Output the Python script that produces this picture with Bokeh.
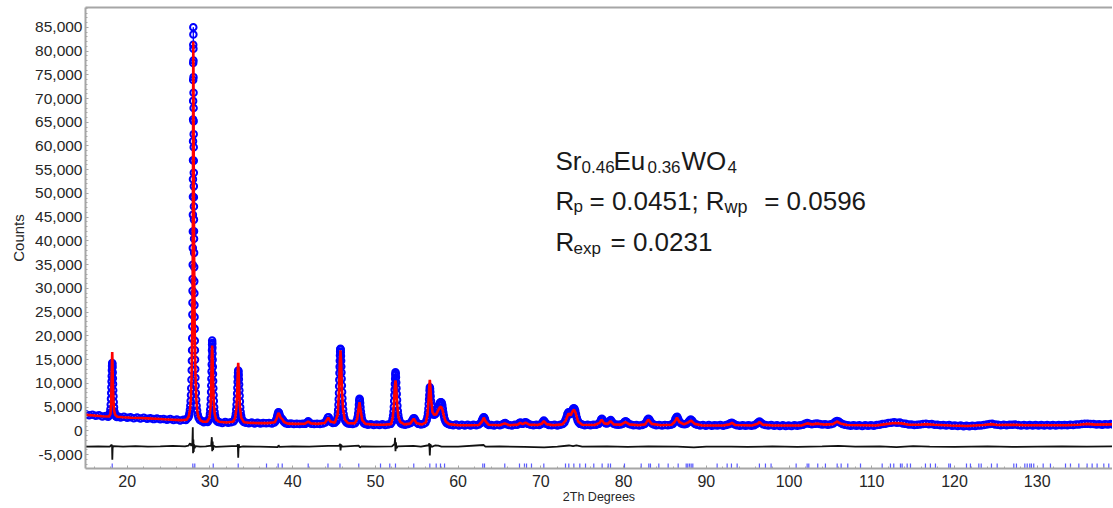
from bokeh.plotting import figure
from bokeh.models import Range1d, LinearAxis, SingleIntervalTicker, FixedTicker, NumeralTickFormatter, Label
from bokeh.embed import file_html
from bokeh.resources import INLINE

# ---------------- data ----------------
# observed pattern, (2theta, counts) by region
obs_15_19 = [
    (15.0, 3500), (15.4, 3300), (15.8, 3400), (16.2, 3200), (16.6, 3300), (17.0, 3050), (17.4, 3150), (17.7, 3000),
    (17.85, 3300), (17.92, 3800), (17.97, 4600), (18.01, 5600), (18.04, 6800), (18.07, 8000), (18.09, 9200),
    (18.11, 10400), (18.13, 11600), (18.15, 12800), (18.17, 13700), (18.19, 14300), (18.21, 14100), (18.23, 13400),
    (18.25, 12300), (18.27, 11100), (18.29, 9900), (18.31, 8600), (18.34, 7300), (18.37, 6100), (18.41, 5000),
    (18.46, 4100), (18.53, 3500), (18.62, 3100), (18.75, 2950), (18.9, 3050),
]
obs_19_27 = [
    (19.2, 2850), (19.6, 3000), (20.0, 2800), (20.4, 2900), (20.8, 2700), (21.2, 2850), (21.6, 2650), (22.0, 2800),
    (22.4, 2600), (22.8, 2700), (23.2, 2500), (23.6, 2650), (24.0, 2450), (24.4, 2550), (24.8, 2350), (25.2, 2500),
    (25.6, 2300), (26.0, 2400), (26.4, 2200), (26.8, 2350), (27.1, 2300), (27.35, 2800),
]
obs_27_30 = [
    (27.45, 3100), (27.52, 3700), (27.58, 4400), (27.63, 5300), (27.67, 6300), (27.71, 7600), (27.74, 9000),
    (27.77, 10800), (27.8, 12800), (27.82, 14800), (27.84, 17000), (27.86, 19500), (27.87, 22000), (27.88, 24500),
    (27.89, 27000), (27.9, 29500), (27.91, 32000), (27.92, 35000), (27.93, 38500), (27.935, 42000), (27.94, 45500),
    (27.945, 49300), (27.95, 53000), (27.955, 57000), (27.96, 61000), (27.965, 65600), (27.97, 69500),
    (27.975, 73900), (27.98, 77500), (27.985, 81300), (27.99, 85000), (28.0, 83450), (28.005, 80500),
    (28.01, 78000), (28.015, 74500), (28.02, 71200), (28.025, 68000), (28.03, 65200), (28.035, 62500),
    (28.04, 59750), (28.045, 56900), (28.05, 54350), (28.055, 51500), (28.06, 49200), (28.065, 47250),
    (28.07, 44500), (28.075, 42060), (28.08, 40460), (28.09, 37500), (28.1, 34500), (28.11, 31500),
    (28.12, 29000), (28.13, 26500), (28.14, 24000), (28.155, 21500), (28.17, 19000), (28.185, 17000),
    (28.2, 15000), (28.22, 13000), (28.24, 11200), (28.27, 9500), (28.3, 8000), (28.34, 6600), (28.39, 5300),
    (28.45, 4300), (28.53, 3400), (28.63, 2800), (28.78, 2300), (29.0, 2100), (29.25, 1850), (29.5, 2050),
    (29.72, 1900),
]
obs_30_34 = [
    (29.88, 2300), (29.95, 2900), (30.0, 3600), (30.04, 4500), (30.08, 5600), (30.11, 6800), (30.14, 8200),
    (30.16, 9600), (30.18, 11000), (30.2, 12500), (30.22, 14000), (30.235, 15500), (30.25, 17000), (30.26, 18200),
    (30.27, 19050), (30.285, 18500), (30.3, 17500), (30.315, 16300), (30.33, 15000), (30.35, 13500), (30.37, 12000),
    (30.39, 10500), (30.41, 9000), (30.44, 7600), (30.47, 6300), (30.51, 5000), (30.56, 4000), (30.62, 3200),
    (30.7, 2600), (30.8, 2200), (30.95, 1950),
    (31.15, 1850), (31.5, 1700), (31.85, 1900), (32.2, 1750), (32.55, 1850), (32.85, 2000),
    (33.0, 2400), (33.07, 2900), (33.13, 3600), (33.18, 4500), (33.22, 5500), (33.26, 6700), (33.29, 7900),
    (33.32, 9100), (33.35, 10300), (33.37, 11400), (33.4, 12300), (33.42, 12750), (33.45, 12500), (33.48, 11800),
    (33.5, 10900), (33.53, 9800), (33.56, 8600), (33.59, 7400), (33.62, 6200), (33.66, 5000), (33.71, 4000),
    (33.77, 3200), (33.85, 2600), (33.95, 2200), (34.1, 1900),
]
obs_34_47 = [
    (34.35, 1750), (34.7, 1650), (35.05, 1800), (35.4, 1600), (35.75, 1750), (36.1, 1600), (36.45, 1700),
    (36.8, 1650), (37.15, 1700), (37.5, 1600), (37.8, 1800),
    (37.95, 2100), (38.05, 2600), (38.13, 3100), (38.2, 3600), (38.27, 3950), (38.33, 3900), (38.4, 3500),
    (38.47, 3100), (38.55, 2800), (38.65, 2650), (38.75, 2450), (38.85, 2200), (38.97, 1900), (39.15, 1650),
    (39.45, 1500), (39.8, 1600), (40.15, 1450), (40.5, 1550), (40.85, 1450), (41.2, 1550), (41.5, 1500),
    (41.72, 1750), (41.88, 2050), (42.02, 1800), (42.25, 1550), (42.6, 1450), (42.95, 1550), (43.3, 1450),
    (43.65, 1600), (43.95, 1800), (44.12, 2300), (44.25, 2850), (44.35, 2900), (44.47, 2400), (44.62, 1950),
    (44.85, 1700), (45.1, 1750), (45.3, 2100),
    (45.4, 2700), (45.46, 3500), (45.5, 4400), (45.54, 5500), (45.57, 6700), (45.6, 8000), (45.62, 9400),
    (45.64, 10800), (45.66, 12200), (45.68, 13500), (45.7, 14800), (45.72, 15900), (45.74, 16700), (45.76, 17200),
    (45.78, 17300), (45.8, 17100), (45.82, 16600), (45.84, 15800), (45.86, 14800), (45.88, 13600), (45.9, 12300),
    (45.92, 11000), (45.95, 9600), (45.98, 8200), (46.01, 6900), (46.05, 5700), (46.1, 4600), (46.16, 3600),
    (46.24, 2800), (46.35, 2200), (46.5, 1800), (46.7, 1600),
]
obs_47_59 = [
    (46.95, 1550), (47.25, 1450), (47.55, 1650), (47.75, 2200),
    (47.85, 2900), (47.92, 3700), (47.97, 4600), (48.01, 5500), (48.05, 6300), (48.08, 6770), (48.12, 6500),
    (48.16, 5900), (48.2, 5000), (48.25, 4100), (48.31, 3300), (48.38, 2600), (48.48, 2000), (48.62, 1650),
    (48.8, 1450),
    (49.1, 1300), (49.45, 1400), (49.8, 1250), (50.15, 1350), (50.5, 1250), (50.85, 1400), (51.2, 1250),
    (51.55, 1350), (51.85, 1500),
    (52.0, 1900), (52.08, 2500), (52.14, 3200), (52.19, 4100), (52.23, 5100), (52.27, 6300), (52.3, 7500),
    (52.33, 8700), (52.36, 9900), (52.39, 11000), (52.41, 11800), (52.43, 12380), (52.46, 12100), (52.49, 11300),
    (52.52, 10200), (52.55, 9000), (52.58, 7800), (52.62, 6500), (52.66, 5300), (52.71, 4200), (52.77, 3300),
    (52.85, 2600), (52.95, 2000), (53.1, 1600), (53.3, 1400),
    (53.6, 1300), (53.95, 1450), (54.25, 1700), (54.45, 2200), (54.58, 2650), (54.7, 2700), (54.82, 2300),
    (54.97, 1800), (55.2, 1500), (55.5, 1350), (55.8, 1450), (56.05, 1750), (56.2, 2300),
    (56.3, 3000), (56.36, 3800), (56.41, 4700), (56.45, 5700), (56.49, 6700), (56.52, 7600), (56.55, 8500),
    (56.58, 9230), (56.61, 8900), (56.64, 8200), (56.68, 7300), (56.72, 6300), (56.77, 5300), (56.83, 4400),
    (56.9, 3800), (57.0, 3500), (57.12, 3400), (57.25, 3600), (57.38, 3900), (57.5, 4400), (57.6, 5000),
    (57.7, 5500), (57.8, 5900), (57.88, 6050), (57.95, 6070), (58.02, 5900), (58.09, 5400), (58.15, 4700),
    (58.21, 3900), (58.28, 3200), (58.36, 2600), (58.46, 2100), (58.6, 1700), (58.8, 1450),
]
obs_59_89 = [
    (59.05, 1300), (59.4, 1200), (59.75, 1350), (60.1, 1150), (60.45, 1300), (60.8, 1150), (61.15, 1300),
    (61.5, 1150), (61.85, 1300), (62.2, 1200), (62.5, 1350),
    (62.75, 1700), (62.88, 2200), (62.98, 2650), (63.08, 2900), (63.16, 2850), (63.25, 2450), (63.36, 1900),
    (63.5, 1500), (63.7, 1250),
    (64.0, 1250), (64.35, 1150), (64.7, 1300), (65.05, 1200), (65.35, 1350), (65.55, 1600), (65.7, 1700),
    (65.88, 1400), (66.15, 1250), (66.5, 1150), (66.85, 1300), (67.15, 1300), (67.4, 1700), (67.55, 1800),
    (67.75, 1500), (67.95, 1650), (68.1, 1850), (68.25, 1800), (68.45, 1500), (68.75, 1300), (69.1, 1200),
    (69.45, 1300), (69.8, 1250), (70.05, 1450), (70.22, 1900), (70.36, 2200), (70.5, 1900), (70.68, 1500),
    (70.95, 1250), (71.3, 1200), (71.65, 1300), (72.0, 1150), (72.35, 1300), (72.65, 1450),
    (72.85, 1800), (72.98, 2300), (73.1, 2900), (73.2, 3500), (73.3, 3900), (73.4, 3950), (73.5, 3700),
    (73.6, 3600), (73.7, 3800), (73.8, 4300), (73.9, 4700), (74.0, 4800), (74.08, 4650), (74.16, 4200),
    (74.25, 3500), (74.35, 2800), (74.45, 2200), (74.58, 1800), (74.75, 1500), (75.0, 1350),
    (75.3, 1200), (75.65, 1300), (76.0, 1200), (76.35, 1300), (76.7, 1300), (76.98, 1500), (77.15, 1900),
    (77.28, 2400), (77.38, 2560), (77.5, 2300), (77.65, 1900), (77.82, 1650), (78.0, 1600), (78.18, 1800),
    (78.32, 2100), (78.45, 2300), (78.6, 1950), (78.8, 1550), (79.05, 1350), (79.35, 1300), (79.65, 1350),
    (79.92, 1550), (80.1, 1900), (80.25, 2050), (80.4, 1900), (80.6, 1550), (80.85, 1350), (81.2, 1200),
    (81.55, 1250), (81.9, 1150), (82.25, 1250), (82.55, 1450), (82.75, 1900), (82.88, 2350), (83.0, 2560),
    (83.12, 2400), (83.25, 2000), (83.42, 1600), (83.65, 1350), (83.95, 1200), (84.3, 1250), (84.65, 1150),
    (85.0, 1250), (85.35, 1200), (85.7, 1300), (85.95, 1450), (86.12, 1900), (86.26, 2500), (86.38, 2900),
    (86.48, 3000), (86.6, 2600), (86.75, 2000), (86.92, 1650), (87.15, 1450), (87.4, 1400), (87.62, 1550),
    (87.82, 1850), (87.98, 2200), (88.12, 2400), (88.28, 2200), (88.45, 1800), (88.65, 1450), (88.9, 1300),
]
obs_89_118 = [
    (89.25, 1150), (89.6, 1250), (89.95, 1100), (90.3, 1250), (90.65, 1100), (91.0, 1200), (91.35, 1150),
    (91.7, 1250), (92.05, 1100), (92.4, 1250), (92.7, 1400), (92.9, 1650), (93.08, 1750), (93.25, 1600),
    (93.45, 1350), (93.7, 1200),
    (94.05, 1100), (94.4, 1200), (94.75, 1100), (95.1, 1200), (95.45, 1100), (95.8, 1200), (96.05, 1450),
    (96.25, 1800), (96.43, 2000), (96.62, 1750), (96.85, 1400), (97.15, 1250),
    (97.5, 1150), (97.85, 1250), (98.2, 1100), (98.55, 1200), (98.9, 1050), (99.25, 1200), (99.6, 1050),
    (99.95, 1150), (100.3, 1050), (100.65, 1200), (101.0, 1100), (101.35, 1200), (101.7, 1300), (101.95, 1550),
    (102.2, 1700), (102.45, 1550), (102.75, 1400), (103.1, 1500), (103.4, 1600), (103.7, 1450), (104.0, 1350),
    (104.35, 1400), (104.7, 1300), (105.05, 1400), (105.35, 1600), (105.6, 1950), (105.8, 2100), (106.0, 2000),
    (106.2, 1750), (106.45, 1450), (106.75, 1300),
    (107.1, 1200), (107.45, 1100), (107.8, 1200), (108.15, 1100), (108.5, 1200), (108.85, 1050), (109.2, 1200),
    (109.55, 1100), (109.9, 1200), (110.25, 1100), (110.6, 1250), (110.95, 1300), (111.3, 1450),
    (111.65, 1550), (112.0, 1700), (112.35, 1750), (112.7, 1850), (113.05, 1750), (113.4, 1800), (113.75, 1600),
    (114.1, 1500), (114.45, 1350), (114.8, 1350), (115.15, 1250), (115.5, 1300), (115.85, 1350), (116.2, 1450),
    (116.55, 1550), (116.9, 1400), (117.25, 1450), (117.6, 1300), (117.95, 1300),
]
obs_118_139 = [
    (118.3, 1200), (118.65, 1250), (119.0, 1150), (119.35, 1250), (119.7, 1100), (120.05, 1150), (120.4, 1050),
    (120.75, 1150), (121.1, 1000), (121.45, 1100), (121.8, 1000), (122.15, 1100), (122.5, 1050), (122.85, 1150),
    (123.2, 1150), (123.55, 1250), (123.9, 1350), (124.25, 1450), (124.55, 1550), (124.9, 1350), (125.25, 1300),
    (125.6, 1200), (125.95, 1300), (126.3, 1200), (126.65, 1300), (127.0, 1300), (127.35, 1350), (127.7, 1250),
    (128.05, 1150), (128.4, 1250), (128.75, 1150), (129.1, 1250), (129.45, 1150), (129.8, 1250), (130.15, 1150),
    (130.5, 1250), (130.85, 1150), (131.2, 1250), (131.55, 1150), (131.9, 1250), (132.25, 1150), (132.6, 1250),
    (132.95, 1200), (133.3, 1250), (133.65, 1200), (134.0, 1300), (134.35, 1250), (134.7, 1350), (135.05, 1350),
    (135.4, 1450), (135.75, 1500), (136.1, 1550), (136.45, 1450), (136.8, 1450), (137.15, 1350), (137.5, 1400),
    (137.85, 1300), (138.2, 1400), (138.55, 1350), (138.9, 1450), (139.1, 1400),
]

# calculated pattern
calc_tth = [
    15.0, 16.0, 17.0, 17.8, 17.98, 18.06, 18.12, 18.16, 18.19, 18.22, 18.27, 18.33, 18.42, 18.55, 18.8,
    19.5, 20.5, 21.5, 22.5, 23.5, 24.5, 25.5, 26.5, 27.2, 27.45, 27.6, 27.7, 27.78, 27.84, 27.88, 27.92,
    27.95, 27.97, 27.99, 28.01, 28.03, 28.05, 28.08, 28.11, 28.15, 28.2, 28.26, 28.34, 28.45, 28.6, 28.85,
    29.2, 29.65, 29.95, 30.08, 30.16, 30.22, 30.27, 30.32, 30.38, 30.46, 30.58, 30.75, 31.1, 32.0, 32.8,
    33.05, 33.2, 33.3, 33.37, 33.42, 33.47, 33.54, 33.63, 33.78, 34.1, 35.0, 36.0, 37.0, 37.85, 38.1,
    38.28, 38.4, 38.55, 38.74, 38.95, 39.4, 40.5, 41.5, 41.88, 42.2, 43.0, 43.9, 44.3, 44.55, 45.1,
    45.45, 45.6, 45.7, 45.78, 45.86, 45.96, 46.1, 46.3, 46.7, 47.5, 47.8, 47.95, 48.08, 48.2, 48.4,
    48.8, 50.0, 51.0, 51.9, 52.1, 52.25, 52.36, 52.43, 52.5, 52.62, 52.78, 53.0, 53.5, 54.2, 54.64,
    54.95, 55.6, 56.1, 56.3, 56.43, 56.52, 56.58, 56.64, 56.74, 56.9, 57.1, 57.35, 57.6, 57.8, 57.95,
    58.1, 58.3, 58.5, 58.9, 60.0, 61.5, 62.5, 62.9, 63.1, 63.3, 63.7, 65.0, 65.64, 66.2, 67.2,
    67.5, 67.8, 68.15, 68.6, 69.6, 70.1, 70.36, 70.7, 71.5, 72.6, 73.0, 73.35, 73.6, 73.85, 74.0,
    74.2, 74.5, 75.0, 76.5, 77.1, 77.35, 77.65, 78.1, 78.42, 78.8, 79.7, 80.25, 80.7, 81.8, 82.6,
    82.98, 83.4, 84.5, 85.8, 86.2, 86.45, 86.75, 87.3, 87.8, 88.15, 88.6, 89.5, 92.0, 92.8, 93.1,
    93.5, 95.5, 96.2, 96.43, 96.8, 98.0, 101.5, 102.2, 102.8, 103.4, 104.2, 105.3, 105.8, 106.2, 107.0,
    110.5, 111.5, 112.7, 113.6, 114.5, 115.7, 116.6, 117.6, 119.5, 121.5, 123.5, 124.45, 125.2, 127.15, 128.5,
    133.5, 135.0, 136.1, 137.0, 139.2,
]
calc_counts = [
    3400, 3250, 3100, 3050, 3600, 6000, 10500, 14500, 16600, 14500, 10000, 6500, 4300, 3400, 3000,
    2900, 2800, 2730, 2650, 2570, 2470, 2380, 2280, 2400, 3100, 4600, 7000, 11500, 17500, 24000, 34000,
    50000, 68000, 82000, 76000, 64000, 52000, 40000, 31000, 23000, 16500, 11500, 7200, 4400, 3000, 2250,
    1950, 1950, 2800, 5200, 9500, 15500, 18000, 15500, 10500, 6300, 3600, 2400, 1950, 1800, 1950,
    2700, 4800, 8500, 12500, 14350, 12500, 8500, 5000, 2800, 1850, 1700, 1650, 1650, 1850, 2800,
    3800, 3500, 2800, 2500, 1900, 1550, 1500, 1550, 2000, 1600, 1500, 1700, 2800, 2000, 1750,
    3500, 8500, 14500, 17000, 14500, 8500, 4500, 2400, 1650, 1600, 2500, 4500, 6060, 4500, 2300,
    1500, 1300, 1300, 1450, 2800, 6000, 9500, 10630, 9500, 6000, 3000, 1900, 1400, 1550, 2600,
    1700, 1350, 1800, 3500, 6500, 9500, 10770, 9500, 6500, 4000, 3400, 3500, 4400, 5000, 5100,
    4500, 3000, 2000, 1450, 1200, 1200, 1250, 2000, 2800, 2100, 1300, 1200, 1600, 1200, 1350,
    1700, 1450, 1750, 1350, 1250, 1500, 2100, 1450, 1200, 1400, 2200, 3700, 3300, 4200, 4500,
    3800, 2000, 1300, 1250, 1700, 2400, 1600, 1500, 2100, 1400, 1350, 1900, 1400, 1200, 1400,
    2400, 1500, 1200, 1300, 2000, 2800, 1900, 1400, 1800, 2200, 1500, 1150, 1150, 1400, 1700,
    1250, 1150, 1500, 1900, 1350, 1150, 1150, 1600, 1400, 1550, 1350, 1450, 2000, 1600, 1250,
    1150, 1400, 1700, 1600, 1300, 1300, 1450, 1300, 1150, 1050, 1250, 1450, 1250, 1300, 1200,
    1200, 1300, 1500, 1350, 1400,
]

# difference curve (obs - calc, drawn with its offset)
diff_tth = [
    15.0, 16.5, 17.9, 18.1, 18.17, 18.2, 18.24, 18.3, 19.5, 21.0, 22.5, 24.0, 25.5, 27.0, 27.4,
    27.6, 27.75, 27.88, 27.93, 27.96, 28.0, 28.04, 28.09, 28.15, 28.25, 28.8, 29.5, 30.15, 30.23, 30.28,
    30.33, 30.38, 30.45, 30.7, 32.0, 33.3, 33.37, 33.42, 33.48, 33.56, 34.0, 36.0, 38.2, 38.3, 38.4,
    40.0, 42.0, 44.3, 45.6, 45.74, 45.79, 45.85, 46.0, 48.0, 48.12, 48.3, 50.0, 52.0, 52.33, 52.38,
    52.43, 52.48, 52.55, 52.7, 54.6, 55.5, 56.45, 56.52, 56.58, 56.64, 56.8, 57.2, 57.6, 58.0, 60.0,
    63.1, 63.3, 65.0, 68.0, 70.4, 72.0, 73.4, 73.9, 74.3, 75.0, 78.0, 80.5, 83.0, 86.5, 88.5,
    90.0, 93.0, 95.0, 98.0, 101.0, 104.0, 106.0, 108.0, 111.0, 113.0, 115.0, 117.0, 120.0, 124.0, 127.0,
    130.0, 133.0, 136.0, 139.2,
]
diff_counts = [
    -3300, -3250, -3300, -2900, -3100, -6050, -3600, -3200, -3300, -3200, -3300, -3250, -3150, -3250, -3100,
    -2600, -3100, -2500, 800, -4700, -1800, -4400, -2800, -3600, -3200, -3300, -3250, -3100, -1300, -4250,
    -2200, -4000, -3100, -3350, -3250, -3150, -2800, -5650, -2800, -3400, -3250, -3300, -3400, -3000, -3350,
    -3250, -3300, -3150, -3150, -2700, -4100, -2900, -3300, -3100, -3450, -3250, -3300, -3250, -2700, -1450,
    -4250, -2400, -3600, -3250, -3150, -3300, -3000, -2600, -5150, -2800, -3350, -3050, -3100, -3300, -3300,
    -2950, -3300, -3250, -3350, -3450, -3300, -3050, -3200, -3050, -3300, -3250, -3350, -3250, -3300, -3450,
    -3300, -3300, -3350, -3250, -3350, -3250, -3150, -3300, -3250, -3400, -3200, -3300, -3350, -3250, -3350,
    -3300, -3250, -3300, -3250,
]

# reflection positions (2theta)
refl_tth = [
    18.19, 27.93, 28.17, 30.40, 33.42, 36.84, 38.25, 38.74, 41.88, 44.27, 45.72, 47.99, 50.62, 51.74,
    52.43, 54.64, 56.58, 57.35, 57.87, 58.36, 62.98, 63.19, 65.64, 67.42, 68.02, 68.27, 68.87, 70.36,
    72.98, 73.38, 73.99, 74.71, 75.40, 76.40, 77.41, 78.14, 78.42, 80.11, 82.13, 83.05, 83.25, 84.26,
    85.39, 86.60, 87.57, 87.76, 87.97, 88.17, 88.37, 91.31, 92.52, 93.04, 93.73, 96.42, 97.15, 97.83,
    100.86, 102.19, 102.39, 103.47, 104.40, 105.82, 106.30, 107.10, 108.64, 111.26, 112.26, 112.66,
    113.47, 113.67, 114.28, 114.68, 116.49, 117.09, 117.70, 119.31, 119.51, 121.45, 121.93, 122.94,
    123.23, 124.47, 125.16, 127.17, 127.49, 128.50, 128.79, 129.10, 129.30, 129.58, 130.72, 131.60,
    133.42, 134.02, 135.03, 136.03, 136.64, 137.24, 138.05, 138.65,
]

x_title = "2Th Degrees"
y_title = "Counts"

# ---------------- build the series ----------------
obs_all = (obs_15_19 + obs_19_27 + obs_27_30 + obs_30_34 + obs_34_47 + obs_47_59
           + obs_59_89 + obs_89_118 + obs_118_139)
obs_tth = [t for t, c in obs_all]
obs_counts = [c for t, c in obs_all]

# ---------------- layout / style ----------------
X_RANGE = (14.96, 139.10)
Y_RANGE = (-7895, 89158)
REFL_TOP, REFL_BOTTOM = -6850, -8200
AXIS_GRAY = "#a6a6a6"
LABEL_COLOR = "#262626"
FONT = "Liberation Sans"

p = figure(frame_width=1027, frame_height=461, output_backend="svg", toolbar_location=None,
           x_range=Range1d(*X_RANGE), y_range=Range1d(*Y_RANGE),
           min_border_left=85, min_border_right=0, min_border_top=7, min_border_bottom=0,
           x_axis_label=x_title, y_axis_label=y_title)
p.outline_line_color = None
p.grid.visible = False
p.background_fill_color = "white"
p.border_fill_color = "white"

# y axis
ya = p.yaxis[0]
ya.ticker = SingleIntervalTicker(interval=5000, num_minor_ticks=5)
ya.formatter = NumeralTickFormatter(format="0,0")
ya.major_label_text_font = FONT
ya.major_label_text_font_size = "15.5px"
ya.major_label_text_color = LABEL_COLOR
ya.major_label_standoff = 3
ya.axis_label_text_font = FONT
ya.axis_label_text_font_size = "15px"
ya.axis_label_text_font_style = "normal"
ya.axis_label_text_color = LABEL_COLOR
ya.axis_label_standoff = 5
ya.axis_line_color = AXIS_GRAY
ya.axis_line_width = 2
ya.major_tick_in = 3
ya.major_tick_out = 0
ya.minor_tick_in = 2
ya.minor_tick_out = 0
ya.major_tick_line_color = AXIS_GRAY
ya.minor_tick_line_color = AXIS_GRAY

# x axis
xa = p.xaxis[0]
xa.ticker = SingleIntervalTicker(interval=10, num_minor_ticks=5)
xa.major_label_text_font = FONT
xa.major_label_text_font_size = "16px"
xa.major_label_text_color = LABEL_COLOR
xa.major_label_standoff = 6
xa.axis_label_text_font = FONT
xa.axis_label_text_font_size = "12.5px"
xa.axis_label_text_font_style = "normal"
xa.axis_label_text_color = LABEL_COLOR
xa.axis_label_standoff = 0
xa.axis_line_color = AXIS_GRAY
xa.axis_line_width = 2
xa.major_tick_in = 3
xa.major_tick_out = 0
xa.minor_tick_in = 2
xa.minor_tick_out = 0
xa.major_tick_line_color = AXIS_GRAY
xa.minor_tick_line_color = AXIS_GRAY

# top border as a bare axis without ticks
top = LinearAxis(ticker=FixedTicker(ticks=[]), axis_line_color=AXIS_GRAY, axis_line_width=2,
                 major_tick_line_color=None, minor_tick_line_color=None,
                 major_label_standoff=0, major_tick_in=0, major_tick_out=0,
                 minor_tick_in=0, minor_tick_out=0)
p.add_layout(top, "above")

# observed: circles joined by a thin line
p.line(obs_tth, obs_counts, line_color="#0000ff", line_width=1)
p.scatter(obs_tth, obs_counts, marker="circle", size=6.5, fill_color=None,
          line_color="#0000ff", line_width=2)
# calculated
p.line(calc_tth, calc_counts, line_color="#ff0000", line_width=2.6)
# difference
p.line(diff_tth, diff_counts, line_color="#111111", line_width=1.8)
# reflection ticks
p.segment(x0=refl_tth, y0=[REFL_TOP] * len(refl_tth), x1=refl_tth, y1=[REFL_BOTTOM] * len(refl_tth),
          line_color="#5a5aff", line_width=1.2)

# annotation text (formula and agreement factors)
def put(txt, x, y, size):
    p.add_layout(Label(x=x, y=y, text=txt, text_font=FONT, text_font_size=size,
                       text_color="#1a1a1a", text_baseline="alphabetic", text_align="left"))

MAIN, SUB = "26px", "17px"
put("Sr", 71.77, 56737, MAIN)
put("0.46", 74.92, 55474, SUB)
put("Eu", 78.78, 56737, MAIN)
put("0.36", 82.89, 55474, SUB)
put("WO", 87.00, 56737, MAIN)
put("4", 92.56, 55474, SUB)

put("R", 71.77, 48526, MAIN)
put("p", 73.95, 47263, SUB)
put("= 0.0451; R", 75.88, 48526, MAIN)
put("wp", 92.20, 47263, "18px")
put("= 0.0596", 96.99, 48526, MAIN)

put("R", 71.77, 39747, MAIN)
put("exp", 73.95, 38484, SUB)
put("= 0.0231", 78.42, 39747, MAIN)

open("out.html", "w").write(file_html(p, INLINE))
